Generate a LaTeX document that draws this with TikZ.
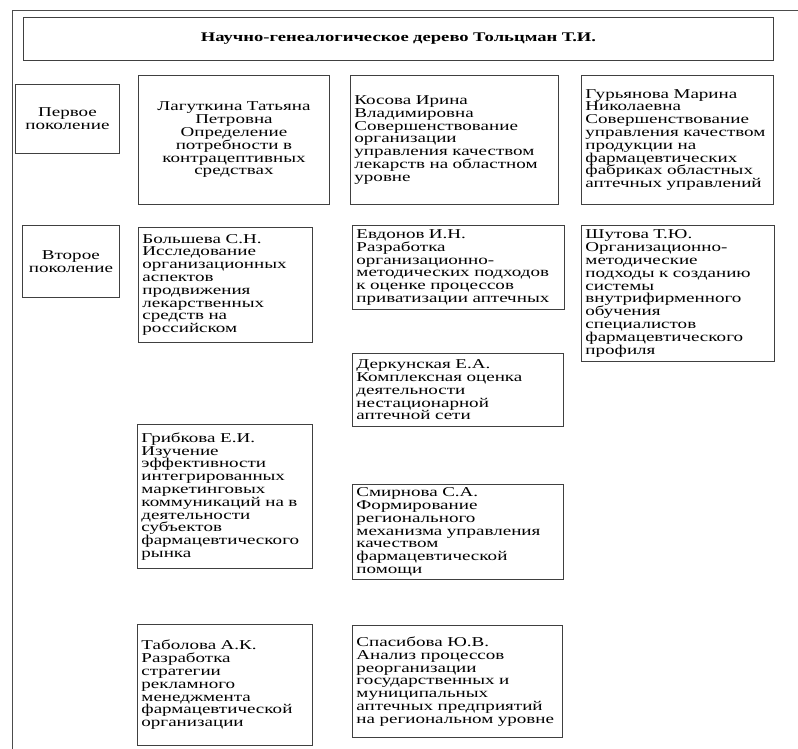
\documentclass[tikz,border=0pt]{standalone}
\usepackage{fontspec}
\setmainfont{Liberation Serif}[FakeStretch=1.41]
\newcommand\boxfont{\fontsize{13.5}{12.8}\selectfont}
\newcommand\titlefont{\fontsize{13.2}{15}\selectfont\bfseries}
\tikzset{
  frame/.style={draw=black!70, line width=0.9pt},
  box/.style={draw=black!75, line width=0.9pt, anchor=north west, inner xsep=4pt, inner ysep=0pt, align=left, font=\boxfont},
  cbox/.style={box, align=center},
}
\begin{document}
\begin{tikzpicture}[x=1pt,y=-1pt]
\useasboundingbox (0,0) rectangle (798,749);
\coordinate (ftop) at (798,10);
\coordinate (fcorner) at (12,10);
\coordinate (fbottom) at (12,749);
\draw[frame] (ftop) -- (fcorner) -- (fbottom);

\node[cbox, font=\titlefont, minimum width=750pt, minimum height=43pt, text width=742pt] (title) at (23,17) {Научно-генеалогическое дерево Тольцман Т.И.};

\node[cbox, minimum width=104pt, minimum height=69pt, text width=96pt] (gen1) at (15,84) {Первое\\поколение};
\node[cbox, minimum width=97pt, minimum height=72pt, text width=89pt] (gen2) at (22,225) {Второе\\поколение};

\node[cbox, minimum width=191pt, minimum height=129pt, text width=183pt] (lag) at (138,75) {Лагуткина Татьяна\\Петровна\\Определение\\потребности в\\контрацептивных\\средствах};
\node[box, minimum width=208pt, minimum height=129pt, text width=200pt] (kos) at (350,75) {Косова Ирина\\Владимировна\\Совершенствование\\организации\\управления качеством\\лекарств на областном\\уровне};
\node[box, minimum width=192pt, minimum height=129pt, text width=184pt] (gur) at (581,75) {Гурьянова Марина\\Николаевна\\Совершенствование\\управления качеством\\продукции на\\фармацевтических\\фабриках областных\\аптечных управлений};

\node[box, minimum width=174pt, minimum height=115pt, text width=166pt] (bol) at (138,227) {Большева С.Н.\\Исследование\\организационных\\аспектов\\продвижения\\лекарственных\\средств на\\российском};
\node[box, minimum width=212pt, minimum height=84pt, text width=204pt] (evd) at (352,225) {Евдонов И.Н.\\Разработка\\организационно-\\методических подходов\\к оценке процессов\\приватизации аптечных};
\node[box, minimum width=193pt, minimum height=136pt, text width=185pt] (shu) at (581,225) {Шутова Т.Ю.\\Организационно-\\методические\\подходы к созданию\\системы\\внутрифирменного\\обучения\\специалистов\\фармацевтического\\профиля};

\node[box, minimum width=211pt, minimum height=73pt, text width=203pt] (der) at (352,353) {Деркунская Е.А.\\Комплексная оценка\\деятельности\\нестационарной\\аптечной сети};
\node[box, minimum width=175pt, minimum height=144pt, text width=167pt] (gri) at (137,424) {Грибкова Е.И.\\Изучение\\эффективности\\интегрированных\\маркетинговых\\коммуникаций на в\\деятельности\\субъектов\\фармацевтического\\рынка};
\node[box, minimum width=211pt, minimum height=95pt, text width=203pt] (smi) at (352,484) {Смирнова С.А.\\Формирование\\регионального\\механизма управления\\качеством\\фармацевтической\\помощи};

\node[box, minimum width=175pt, minimum height=121pt, text width=167pt] (tab) at (137,624) {Таболова А.К.\\Разработка\\стратегии\\рекламного\\менеджмента\\фармацевтической\\организации};
\node[box, minimum width=210pt, minimum height=112pt, text width=202pt] (spa) at (352,625) {Спасибова Ю.В.\\Анализ процессов\\реорганизации\\государственных и\\муниципальных\\аптечных предприятий\\на региональном уровне};
\end{tikzpicture}
\end{document}
